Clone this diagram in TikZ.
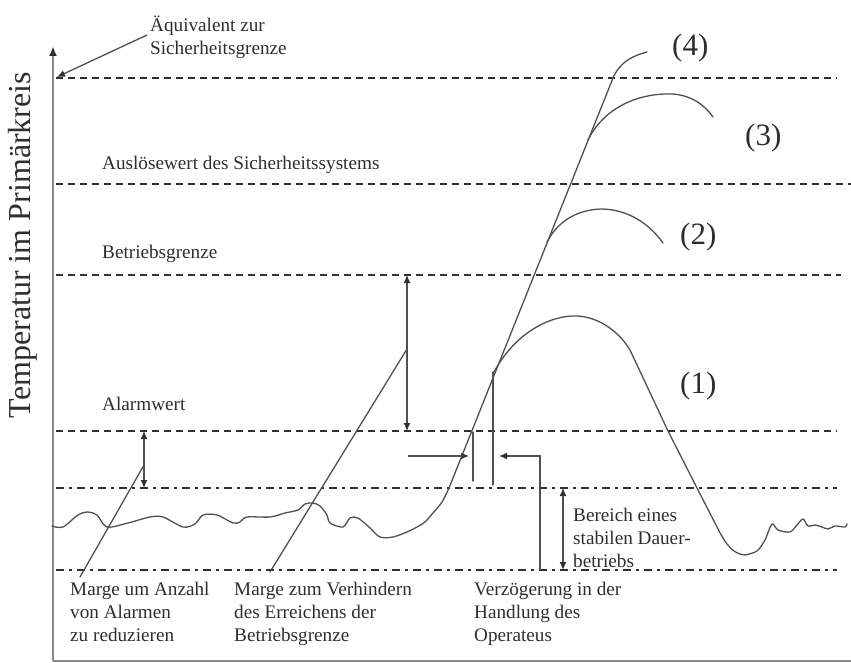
\documentclass[tikz,border=0pt]{standalone}
\usepackage{fontspec}
\setmainfont{Liberation Serif}
\usetikzlibrary{arrows.meta}
\definecolor{txtc}{HTML}{2E2E2E}
\definecolor{linec}{HTML}{505050}
\definecolor{dashc}{HTML}{303030}
\definecolor{axc}{HTML}{8A8A8A}
\begin{document}
\begin{tikzpicture}[x=1pt,y=-1pt,
  every node/.style={inner sep=0pt, text=txtc},
  lbl/.style={anchor=base west, align=left, font=\fontsize{19.2}{23}\selectfont},
  num/.style={anchor=base west, font=\fontsize{31}{34}\selectfont},
  lim/.style={draw=dashc, line width=1.8pt, dash pattern=on 7pt off 5pt},
  ddot/.style={draw=dashc, line width=1.8pt, dash pattern=on 8pt off 5pt on 3pt off 5pt},
  crv/.style={draw=linec, line width=1.3pt, line join=round, line cap=round},
  arr/.style={draw=linec, line width=1.3pt, -{Latex[length=8pt,width=7pt,color=dashc]}},
  darr/.style={draw=linec, line width=1.3pt, {Latex[length=8pt,width=7pt,color=dashc]}-{Latex[length=8pt,width=7pt,color=dashc]}},
  axisline/.style={draw=axc, line width=2pt}]
\useasboundingbox (0,0) rectangle (851,663);

% axes
\coordinate (O) at (53,661);
\coordinate (ytop) at (53,46);
\coordinate (xend) at (851,661);
\draw[axisline, -{Latex[length=10pt,width=8pt,color=dashc]}] (O) -- (ytop);
\draw[axisline] (O) -- (xend);

% limit lines
\draw[lim] (56,78) -- (837,78);
\draw[lim] (56,184) -- (851,184);
\draw[lim] (56,275) -- (841,275);
\draw[lim] (56,431) -- (837,431);
\draw[ddot] (56,488) -- (837,488);
\draw[ddot] (56,570) -- (837,570);

% texts
\node[rotate=90, font=\fontsize{32}{36}\selectfont] (ylab) at (23,245) {Temperatur im Primärkreis};
\node[lbl] (equiv) at (150,55) {Äquivalent zur\\Sicherheitsgrenze};
\node[lbl] (ausl) at (102,170) {Auslösewert des Sicherheitssystems};
\node[lbl] (betr) at (102,258) {Betriebsgrenze};
\node[lbl] (alarm) at (102,410) {Alarmwert};
\node[lbl] (marge1) at (70,641) {Marge um Anzahl\\von Alarmen\\zu reduzieren};
\node[lbl] (marge2) at (234,641) {Marge zum Verhindern\\des Erreichens der\\Betriebsgrenze};
\node[lbl] (verz) at (474,641) {Verzögerung in der\\Handlung des\\Operateus};
\node[lbl] (bereich) at (573,567) {Bereich eines\\stabilen Dauer-\\betriebs};
\node[num] (n1) at (680,393) {(1)};
\node[num] (n2) at (680,244) {(2)};
\node[num] (n3) at (745,146) {(3)};
\node[num] (n4) at (672,56) {(4)};

% equivalent arrow
\coordinate (eqs) at (147,35);
\coordinate (eqt) at (57,77);
\draw[arr] (eqs) -- (eqt);

% margin arrows
\coordinate (a1t) at (144,431); \coordinate (a1b) at (144,488);
\draw[darr] (a1t) -- (a1b);
\coordinate (a2t) at (407,275); \coordinate (a2b) at (407,431);
\draw[darr] (a2t) -- (a2b);
\coordinate (a3t) at (563,488); \coordinate (a3b) at (563,570);
\draw[darr] (a3t) -- (a3b);

% label leader lines
\coordinate (m1s) at (144,465); \coordinate (m1e) at (80,577);
\draw[crv] (m1s) -- (m1e);
\coordinate (m2s) at (407,349); \coordinate (m2e) at (270,572);
\draw[crv] (m2s) -- (m2e);

% delay markers
\coordinate (d1s) at (408,456); \coordinate (d1t) at (469,456);
\draw[arr] (d1s) -- (d1t);
\coordinate (v1t) at (473,432); \coordinate (v1b) at (473,481);
\draw[crv] (v1t) -- (v1b);
\coordinate (v2t) at (493,372); \coordinate (v2b) at (493,485);
\draw[crv] (v2t) -- (v2b);
\coordinate (d2s) at (540,570); \coordinate (d2c) at (540,456); \coordinate (d2t) at (499,456);
\draw[arr] (d2s) -- (d2c) -- (d2t);

% temperature curve: noise before transient
\draw[crv] plot[smooth, tension=0.5] coordinates {
 (52,526) (63,527) (78,515) (88,512) (97,515) (107,527) (128,523) (150,517)
 (163,517) (183,527) (195,524) (203,515) (217,515) (233,523) (240,522)
 (247,517) (270,517) (285,513) (298,510) (305,504) (313,503) (320,506)
 (327,515) (330,523) (343,527) (350,518) (358,518) (370,528) (380,537)
 (393,537) (407,532) (417,527) (425,522) (433,513) (442,502) (449,488)};
% steep rise
\coordinate (rise0) at (449,488);
\coordinate (b1) at (494,372);
\coordinate (b2) at (547,242);
\coordinate (b3) at (588,140);
\coordinate (b4) at (613,78);
\draw[crv] (rise0) -- (b4);
% branch 4
\draw[crv] (b4) .. controls (620,62) and (632,56) .. (647,52);
% branch 3
\draw[crv] (b3) .. controls (605,106) and (640,93) .. (672,94)
                .. controls (690,95) and (704,104) .. (713,117);
% branch 2
\draw[crv] (b2) .. controls (560,217) and (583,209) .. (603,209)
                .. controls (627,210) and (648,222) .. (663,243);
% branch 1
\draw[crv] (b1) .. controls (515,333) and (550,315) .. (577,316)
                .. controls (600,317) and (620,333) .. (630,350)
                -- (668,431) -- (697,488) -- (717,527)
                .. controls (726,545) and (733,554) .. (745,555);
\draw[crv] plot[smooth, tension=0.5] coordinates {
 (745,555) (757,551) (765,540) (772,524) (778,530) (790,532) (797,525)
 (803,519) (808,526) (815,525) (822,527) (828,529) (835,526) (845,527) (847,524)};
\end{tikzpicture}
\end{document}
